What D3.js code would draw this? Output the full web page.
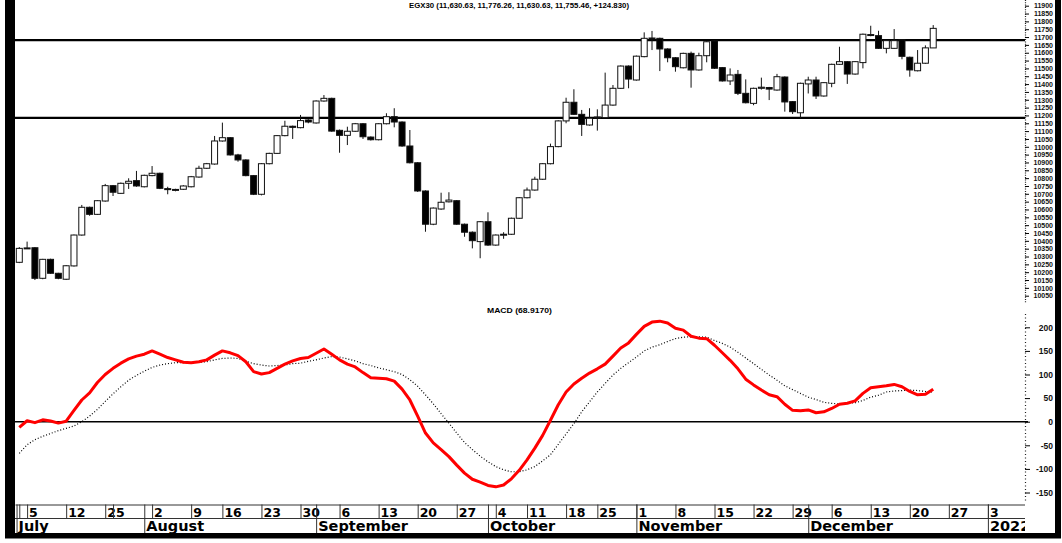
<!DOCTYPE html>
<html>
<head>
<meta charset="utf-8">
<script src="https://cdn.jsdelivr.net/npm/d3@7"></script>
<style>
  html, body { margin: 0; padding: 0; background: #fff; }
  svg { display: block; }
</style>
</head>
<body>
<script>
// EGX30 daily candles, Jul 4 2021 .. Dec 23 2021 (one entry per trading day)
const openPx = [10263,10352,10356,10161,10282,10193,10155,10240,10437,10614,
  10569,10654,10752,10703,10767,10784,10745,10816,10831,10733,
  10722,10729,10745,10807,10863,10890,11037,11058,10948,10916,
  10816,10697,10892,10958,11071,11131,11122,11171,11152,11292,
  11309,11105,11073,11099,11147,11062,11045,11147,11192,11158,
  11005,10898,10718,10506,10603,10649,10656,10506,10455,10395,
  10522,10373,10438,10442,10544,10675,10724,10793,10892,11001,
  11165,11284,11207,11139,11186,11186,11266,11373,11515,11426,
  11575,11688,11692,11624,11568,11504,11596,11490,11581,11675,
  11505,11420,11462,11341,11277,11373,11378,11362,11445,11288,
  11217,11401,11426,11324,11405,11526,11543,11464,11537,11712,
  11709,11628,11628,11683,11571,11485,11533,11630.63];
const highPx = [10360,10395,10360,10285,10286,10196,10245,10440,10629,10618,
  10660,10763,10756,10772,10799,10846,10822,10877,10835,10745,
  10732,10755,10814,10879,10897,11069,11154,11062,10955,10920,
  10820,10896,10962,11075,11166,11135,11203,11176,11296,11330,
  11313,11110,11128,11152,11151,11066,11150,11214,11246,11162,
  11107,10902,10722,10613,10707,10710,10660,10510,10460,10526,
  10582,10441,10455,10548,10679,10740,10809,10896,11020,11169,
  11313,11367,11235,11246,11239,11473,11394,11519,11519,11582,
  11730,11739,11696,11628,11572,11600,11607,11600,11674,11679,
  11509,11500,11490,11430,11377,11441,11382,11465,11449,11292,
  11409,11447,11447,11413,11530,11638,11547,11547,11722,11772,
  11740,11681,11751,11687,11575,11617,11647,11776.26];
const lowPx = [10258,10348,10150,10155,10190,10155,10150,10236,10433,10560,
  10565,10650,10686,10700,10731,10745,10741,10812,10730,10697,
  10716,10725,10741,10803,10859,10886,11033,10944,10905,10812,
  10692,10690,10888,10954,11067,11050,11118,11150,11148,11288,
  11096,10962,11011,11095,11050,11040,11041,11143,11124,11000,
  10894,10712,10458,10500,10598,10645,10502,10426,10352,10289,
  10368,10369,10413,10438,10540,10671,10720,10789,10888,10997,
  11150,11203,11069,11135,11103,11182,11262,11369,11373,11422,
  11571,11617,11483,11539,11479,11500,11377,11486,11539,11497,
  11416,11394,11330,11277,11265,11365,11298,11358,11224,11209,
  11182,11340,11305,11320,11380,11522,11401,11460,11500,11705,
  11624,11596,11624,11558,11447,11481,11529,11630.63];
const closePx = [10352,10355,10161,10282,10193,10161,10241,10437,10614,10569,
  10656,10752,10710,10767,10780,10750,10818,10831,10735,10730,
  10728,10750,10809,10863,10892,11037,11058,10948,10916,10816,
  10697,10892,10958,11071,11131,11124,11167,11158,11292,11309,
  11100,11073,11099,11147,11064,11045,11147,11192,11158,11005,
  10898,10718,10506,10609,10646,10660,10506,10455,10401,10522,
  10373,10437,10442,10544,10675,10724,10793,10892,11001,11165,
  11284,11207,11143,11182,11190,11266,11373,11515,11432,11578,
  11692,11694,11624,11568,11511,11596,11490,11581,11670,11501,
  11420,11458,11341,11281,11373,11380,11368,11447,11286,11224,
  11405,11426,11324,11409,11526,11543,11464,11543,11718,11716,
  11628,11677,11677,11577,11490,11533,11631,11755.46];

// MACD and its signal line
const macdLine = [-12,2,-2,4,1.5,-3,1,24,46,61,
  83,100,113,124,133,139,143,150,143,136,
  131,126,125,127,131,141,150,146,140,127,
  106,101,104,113,122,129,134,136,145,154,
  143,131,122,116,104,93,92,91,86,69,
  46,12,-24,-45,-59,-74,-92,-109,-122,-128,
  -135,-138,-134,-121,-103,-81,-56,-29,3,36,
  63,80,92,103,112,122,139,156,167,185,
  202,211,213,209,198,194,181,177,176,162,
  146,130,112,90,78,67,57,53,37,24,
  23,25,19,21,28,37,39,44,60,72,
  74,76,79,74,64,57,58,68.917];
const signalLine = [-67,-49,-38,-31,-25,-19,-14,-9,0,12,
  26,43,59,74,88,98,107,115,120,123,
  125,125,125,126,127,131,134,135,134,128,
  123,120,118,119,120,123,124,128,131,135,
  138,137,133,129,123,119,114,110,106,100,
  89,75,57,38,17,-3,-24,-44,-59,-73,
  -85,-95,-102,-106,-106,-102,-95,-83,-70,-48,
  -26,-4,21,42,63,81,99,113,125,137,
  150,158,163,170,176,179,180,180,179,172,
  166,158,147,135,123,111,99,88,76,68,
  60,52,47,41,39,37.5,39,40,45,52,
  56,63,65,66,67,66,64,63];

// horizontal support / resistance levels
const levels = [11681, 11184];

// axis ticks
const priceTicks = [10050,10100,10150,10200,10250,10300,10350,10400,10450,10500,
  10550,10600,10650,10700,10750,10800,10850,10900,10950,11000,11050,11100,11150,
  11200,11250,11300,11350,11400,11450,11500,11550,11600,11650,11700,11750,11800,11850,11900];
const macdTicks = [-150,-100,-50,0,50,100,150,200];
const dayTickIdx = [0,1,6,11,12,17,22,26,31,36,41,46,51,56,61,65,70,74,79,84,89,94,99,104,109,114,119,124];
const dayLabels = ["","5","12","25","","2","9","16","23","30","6","13","20","27","4","11","18","25","1","8","15","22","29","6","13","20","27","3"];
const monthIdx = [-0.35,16,38,60,79,101,124];
const monthLabels = ["July","August","September","October","November","December","2022"];

const W = 1062, H = 543;
const plotL = 15, plotR = 1025;

const svg = d3.select("body").append("svg")
    .attr("width", W)
    .attr("height", H)
    .style("font-family", "'Liberation Sans', Arial, sans-serif");

const x = d3.scaleLinear().domain([-0.55, 128.75]).range([plotL, plotR]);
const yP = d3.scaleLinear().domain([10050, 11900]).range([295.7, 5.7]);
const yM = d3.scaleLinear().domain([-150, 200]).range([492.5, 327.3]);

const defs = svg.append("defs");
defs.append("clipPath").attr("id", "clipP").append("rect")
    .attr("x", plotL).attr("y", 0).attr("width", plotR - plotL).attr("height", 303);
defs.append("clipPath").attr("id", "clipM").append("rect")
    .attr("x", plotL).attr("y", 313).attr("width", plotR - plotL).attr("height", 190);
defs.append("clipPath").attr("id", "clipX").append("rect")
    .attr("x", plotL).attr("y", 500).attr("width", plotR - plotL).attr("height", 40);

// titles
svg.append("text")
    .attr("x", 519).attr("y", 7.5)
    .attr("text-anchor", "middle")
    .attr("font-size", 7).attr("font-weight", "bold")
    .attr("textLength", 220).attr("lengthAdjust", "spacingAndGlyphs")
    .text("EGX30 (11,630.63, 11,776.26, 11,630.63, 11,755.46, +124.830)");
svg.append("text")
    .attr("x", 519.5).attr("y", 313.3)
    .attr("text-anchor", "middle")
    .attr("font-size", 7).attr("font-weight", "bold")
    .attr("textLength", 65).attr("lengthAdjust", "spacingAndGlyphs")
    .text("MACD (68.9170)");

// support / resistance
svg.append("g").selectAll("line")
    .data(levels)
    .join("line")
    .attr("x1", plotL).attr("x2", plotR)
    .attr("y1", d => yP(d)).attr("y2", d => yP(d))
    .attr("stroke", "#000").attr("stroke-width", 2.2);

// candles
const idx = d3.range(closePx.length);
const candles = svg.append("g").attr("clip-path", "url(#clipP)");
candles.selectAll("line")
    .data(idx)
    .join("line")
    .attr("x1", i => x(i)).attr("x2", i => x(i))
    .attr("y1", i => yP(highPx[i])).attr("y2", i => yP(lowPx[i]))
    .attr("stroke", "#111").attr("stroke-width", 1);
candles.selectAll("rect")
    .data(idx)
    .join("rect")
    .attr("x", i => x(i) - 3)
    .attr("width", 6)
    .attr("y", i => yP(Math.max(openPx[i], closePx[i])))
    .attr("height", i => Math.max(1, Math.abs(yP(openPx[i]) - yP(closePx[i]))))
    .attr("fill", i => closePx[i] >= openPx[i] ? "#fff" : "#000")
    .attr("stroke", "#111").attr("stroke-width", 1);

// price axis (right)
svg.append("line")
    .attr("x1", plotR + 0.5).attr("x2", plotR + 0.5)
    .attr("y1", 0).attr("y2", 303)
    .attr("stroke", "#222").attr("stroke-width", 1.2)
    .attr("stroke-dasharray", "1,1.3");
svg.append("g")
    .attr("transform", `translate(${plotR},0)`)
    .call(d3.axisRight(yP).tickValues(priceTicks).tickSize(4).tickFormat(d => String(d)))
    .call(g => g.select(".domain").remove())
    .call(g => g.selectAll("text")
        .attr("x", 28).attr("text-anchor", "end")
        .attr("font-size", 7).attr("font-weight", "bold")
        .attr("font-family", "'Liberation Sans', Arial, sans-serif")
        .attr("fill", "#111"));

// MACD panel
svg.append("line")
    .attr("x1", plotL).attr("x2", plotR + 3)
    .attr("y1", yM(0)).attr("y2", yM(0))
    .attr("stroke", "#000").attr("stroke-width", 1.5);

const line = d3.line().x((d, i) => x(i)).y(d => yM(d));
const macdG = svg.append("g").attr("clip-path", "url(#clipM)");
macdG.append("path")
    .attr("d", line(signalLine))
    .attr("fill", "none")
    .attr("stroke", "#000").attr("stroke-width", 1.2)
    .attr("stroke-dasharray", "1,2");
macdG.append("path")
    .attr("d", line(macdLine))
    .attr("fill", "none")
    .attr("stroke", "#ff0000").attr("stroke-width", 3)
    .attr("stroke-linejoin", "round");

svg.append("line")
    .attr("x1", plotR + 0.5).attr("x2", plotR + 0.5)
    .attr("y1", 314).attr("y2", 503)
    .attr("stroke", "#222").attr("stroke-width", 1.2)
    .attr("stroke-dasharray", "1,2.5");
svg.append("g")
    .attr("transform", `translate(${plotR},0)`)
    .call(d3.axisRight(yM).tickValues(macdTicks).tickSize(5).tickFormat(d => String(d)))
    .call(g => g.select(".domain").remove())
    .call(g => g.selectAll("text")
        .attr("x", 28).attr("text-anchor", "end")
        .attr("font-size", 8.5).attr("font-weight", "bold")
        .attr("font-family", "'Liberation Sans', Arial, sans-serif")
        .attr("fill", "#111"));

// time axis: day row and month row (clipped at the right edge of the plot)
const axisTop = 504.5;
const timeAxis = svg.append("g").attr("clip-path", "url(#clipX)");
timeAxis.append("line")
    .attr("x1", plotL).attr("x2", plotR)
    .attr("y1", 518.5).attr("y2", 518.5)
    .attr("stroke", "#333");

timeAxis.append("g")
    .attr("transform", `translate(0,${axisTop})`)
    .call(d3.axisBottom(x).tickValues(dayTickIdx).tickSize(14).tickSizeOuter(0)
        .tickFormat((d, i) => dayLabels[i]))
    .call(g => g.select(".domain").attr("stroke", "#333"))
    .call(g => g.selectAll(".tick line").attr("stroke", "#333"))
    .call(g => g.selectAll("text")
        .attr("x", 1.5).attr("y", 12).attr("dy", null)
        .attr("text-anchor", "start")
        .attr("font-family", "'DejaVu Sans', sans-serif")
        .attr("font-weight", "bold").attr("font-size", 12.5)
        .attr("fill", "#000"));

timeAxis.append("g")
    .attr("transform", `translate(0,${axisTop})`)
    .call(d3.axisBottom(x).tickValues(monthIdx).tickSize(29).tickSizeOuter(0)
        .tickFormat((d, i) => monthLabels[i]))
    .call(g => g.select(".domain").remove())
    .call(g => g.selectAll(".tick line").attr("stroke", "#333"))
    .call(g => g.selectAll("text")
        .attr("x", 1.5).attr("y", 26.5).attr("dy", null)
        .attr("text-anchor", "start")
        .attr("font-family", "'DejaVu Sans', sans-serif")
        .attr("font-weight", "bold").attr("font-size", 14.5)
        .attr("fill", "#000"));

// black frame bars
svg.append("rect").attr("x", 5).attr("y", 0).attr("width", 10).attr("height", 538).attr("fill", "#000");
svg.append("rect").attr("x", 1055).attr("y", 0).attr("width", 6).attr("height", 538).attr("fill", "#000");
svg.append("rect").attr("x", 5).attr("y", 533).attr("width", 1056).attr("height", 5.5).attr("fill", "#000");
</script>
</body>
</html>
